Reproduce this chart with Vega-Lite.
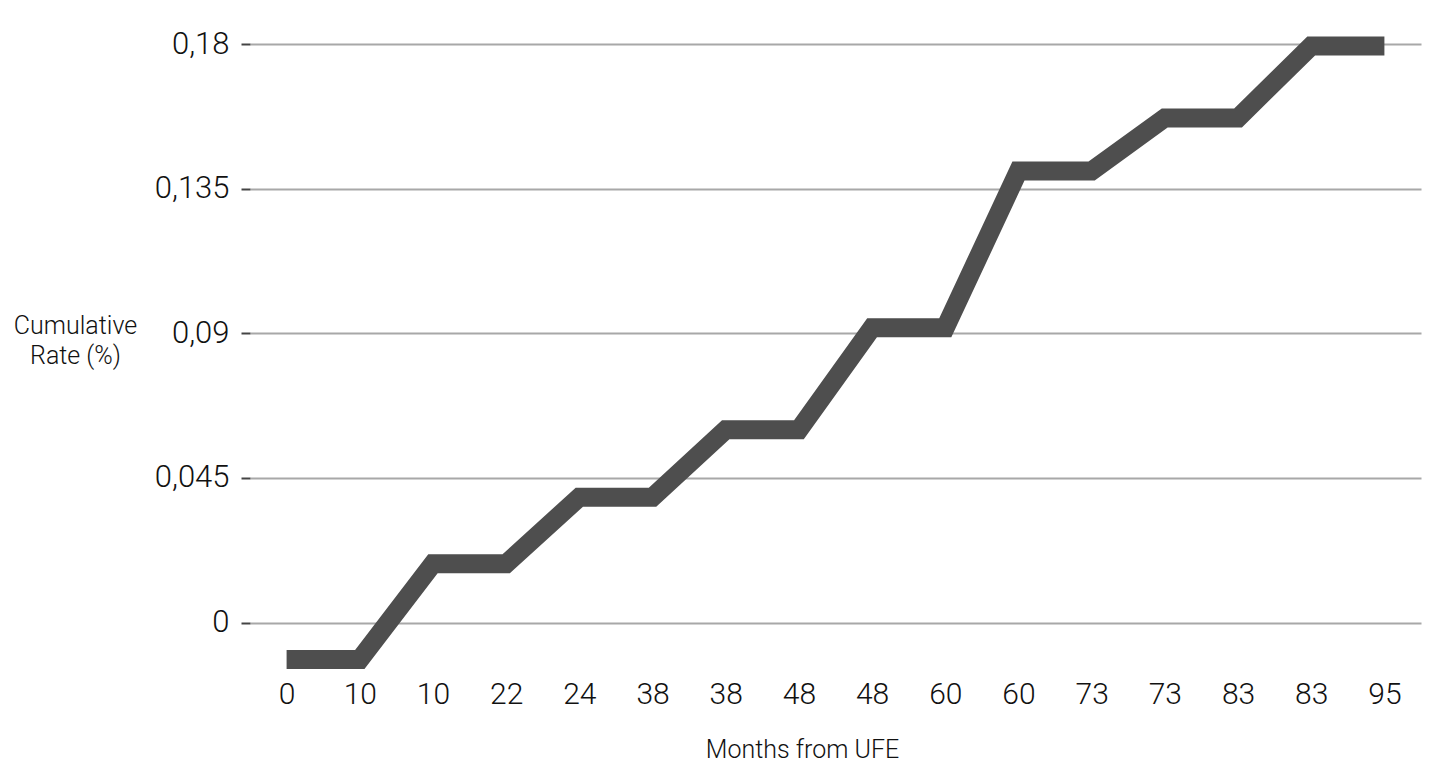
{
  "$schema": "https://vega.github.io/schema/vega-lite/v6.json",
  "width": 1171,
  "height": 630,
  "autosize": {"type": "none"},
  "padding": {"left": 250, "top": 44, "right": 15, "bottom": 103},
  "background": "white",
  "config": {"view": {"stroke": null}, "font": "Roboto"},
  "data": {"values": [
    {"key": "0_1", "rate": -0.0115},
    {"key": "10_2", "rate": -0.0115},
    {"key": "10_3", "rate": 0.0183},
    {"key": "22_4", "rate": 0.0183},
    {"key": "24_5", "rate": 0.039},
    {"key": "38_6", "rate": 0.039},
    {"key": "38_7", "rate": 0.06},
    {"key": "48_8", "rate": 0.06},
    {"key": "48_9", "rate": 0.0917},
    {"key": "60_10", "rate": 0.0917},
    {"key": "60_11", "rate": 0.1405},
    {"key": "73_12", "rate": 0.1405},
    {"key": "73_13", "rate": 0.157},
    {"key": "83_14", "rate": 0.157},
    {"key": "83_15", "rate": 0.1794},
    {"key": "95_16", "rate": 0.1794}
  ]},
  "mark": {"type": "line", "color": "#4e4e4e", "strokeWidth": 19, "strokeJoin": "miter", "strokeCap": "butt"},
  "encoding": {
    "x": {
      "field": "key", "type": "ordinal", "sort": null,
      "scale": {"type": "point", "padding": 0.5},
      "axis": {
        "title": "Months from UFE", "labelExpr": "split(datum.label, '_')[0]",
        "labelAngle": 0, "domain": false, "ticks": false, "grid": false,
        "labelFontSize": 30, "labelFontWeight": 300, "labelColor": "#111", "labelPadding": 5,
        "titleFontSize": 25, "titleFontWeight": 300, "titleColor": "#111", "titlePadding": 28,
        "titleX": 552, "titleAnchor": "start", "titleAlign": "center"
      }
    },
    "y": {
      "field": "rate", "type": "quantitative",
      "scale": {"domain": [-0.016, 0.18], "nice": false, "zero": false},
      "axis": {
        "values": [0, 0.045, 0.09, 0.135, 0.18],
        "labelExpr": "replace(toString(datum.value), '.', ',')",
        "domain": false, "ticks": true, "tickSize": 9, "tickColor": "#444", "tickWidth": 2,
        "grid": true, "gridColor": "#a8a8a8", "gridWidth": 2,
        "labelFontSize": 31, "labelFontWeight": 300, "labelColor": "#111", "labelPadding": 12,
        "title": ["Cumulative", "Rate (%)"], "titleAngle": 0, "titleAlign": "center", "titleBaseline": "middle",
        "titleX": -175, "titleY": 281, "titleFontSize": 25, "titleFontWeight": 300, "titleColor": "#111", "titleLineHeight": 30
      }
    }
  }
}
